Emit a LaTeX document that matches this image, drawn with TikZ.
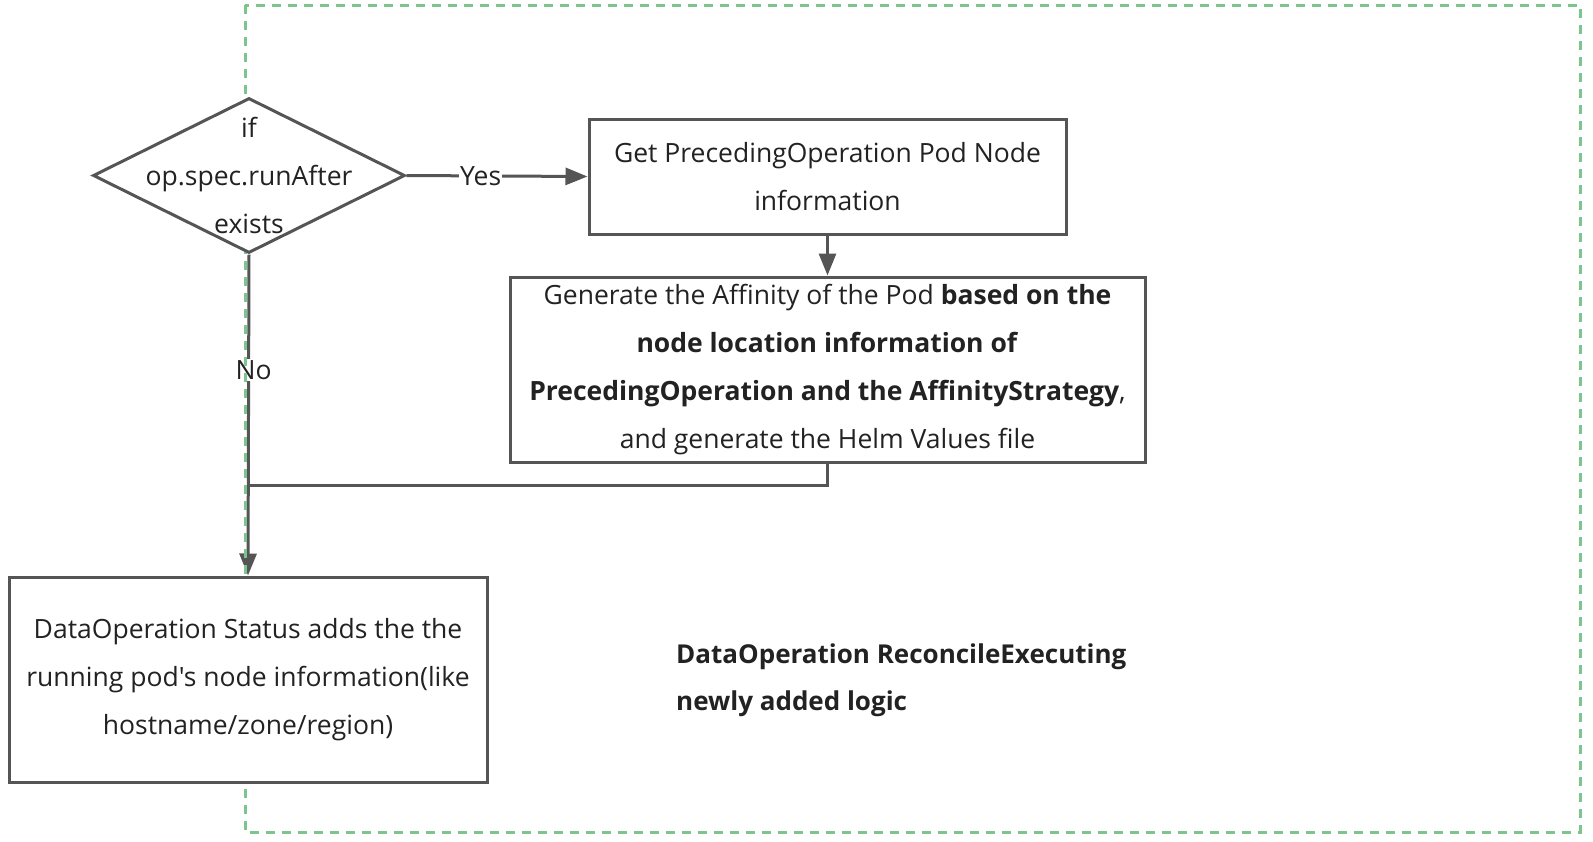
\documentclass[tikz,border=0pt]{standalone}
\usepackage{fontspec}
\setmainfont{Open Sans}[Ligatures=TeXOff]
\usetikzlibrary{shapes.geometric,arrows.meta}
\definecolor{lc}{HTML}{555555}
\definecolor{gc}{HTML}{7CC68C}
\definecolor{tc}{HTML}{222222}
\pgfdeclarelayer{connlayer}
\pgfdeclarelayer{greenlayer}
\pgfsetlayers{connlayer,greenlayer,main}
\tikzset{
  box/.style={draw=lc, line width=3pt, fill=white, align=center, text=tc, inner sep=0pt},
  conn/.style={draw=lc, line width=3pt},
  arr/.style={conn, -{Triangle[length=22pt,width=17pt]}},
  lbl/.style={fill=white, text=tc, inner sep=1pt},
  frame/.style={draw=gc, line width=3pt, dash pattern=on 9pt off 7pt}
}
\begin{document}
\begin{tikzpicture}[x=1pt,y=-1pt, font=\fontsize{26.5}{48}\selectfont]
\useasboundingbox (0,0) rectangle (1593,841);
\begin{pgfonlayer}{greenlayer}
\draw[frame] (245,5) rectangle (1580,832);
\end{pgfonlayer}
\node[box, shape=diamond, minimum width=312pt, minimum height=155pt] (dec) at (249,175.5) {};
\node[text=tc, align=center] (dect) at (dec.center) {if\\op.spec.runAfter\\exists};
\node[box, minimum width=477pt, minimum height=115pt] (b1) at (827.5,176.5) {Get PrecedingOperation Pod Node\\information};
\node[box, minimum width=635pt, minimum height=185pt] (b2) at (827.5,369.5) {Generate the Affinity of the Pod \textbf{based on the}\\\textbf{node location information of}\\\textbf{PrecedingOperation and the AffinityStrategy},\\and generate the Helm Values file};
\node[box, minimum width=478pt, minimum height=205pt] (b3) at (248,679.5) {DataOperation Status adds the the\\running pod's node information(like\\hostname/zone/region)};
\node[anchor=west, align=left, text=tc, inner sep=0pt, font=\fontsize{26}{47}\selectfont\bfseries] (note) at (676,680) {DataOperation ReconcileExecuting\\newly added logic};
\coordinate (m) at (b3.north |- 0,485);
\begin{pgfonlayer}{connlayer}
\draw[arr] (dec.east) -- node[lbl, pos=0.41]{Yes} (b1.west);
\draw[arr] (b1.south) -- (b2.north);
\draw[arr] (dec.south) -- node[lbl, pos=0.36, xshift=5pt]{No} (b3.north);
\draw[conn] (b2.south) |- (m);
\end{pgfonlayer}
\end{tikzpicture}
\end{document}
